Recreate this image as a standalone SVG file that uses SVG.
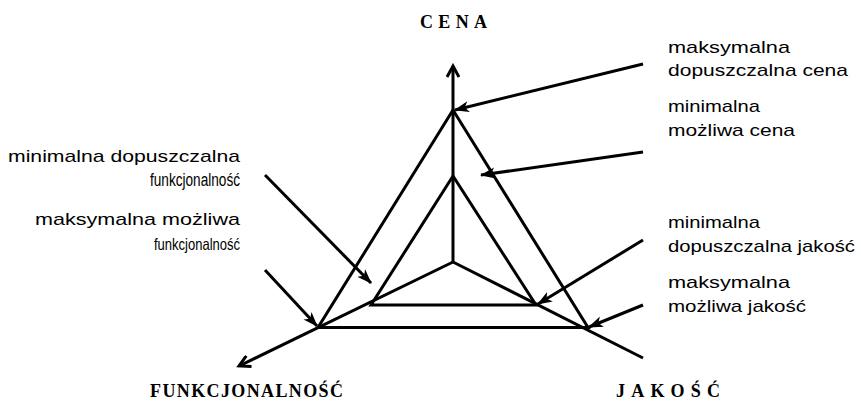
<svg xmlns="http://www.w3.org/2000/svg" width="861" height="403" viewBox="0 0 861 403">
<style>
.ln{fill:none;stroke:#000;stroke-width:3;stroke-linejoin:miter;stroke-linecap:butt}
.ptr{fill:none;stroke:#000;stroke-width:3;marker-end:url(#head)}
.ax{fill:none;stroke:#000;stroke-width:3}
.lbl{font-family:"Liberation Sans",Arial,sans-serif;font-size:17px;fill:#000}
.axl{font-family:"Liberation Serif","Times New Roman",serif;font-size:18px;font-weight:bold;fill:#000}
</style>
<defs>
<marker id="head" markerUnits="userSpaceOnUse" markerWidth="16" markerHeight="12" refX="14" refY="6" orient="auto">
<path d="M0,0.5 L15,6 L0,11.5 L4,6 z" fill="#000"/>
</marker>
<marker id="open" markerUnits="userSpaceOnUse" markerWidth="16" markerHeight="14" refX="13" refY="7" orient="auto">
<path d="M2,1 L13,7 L2,13" fill="none" stroke="#000" stroke-width="3"/>
</marker>
</defs>
<g id="axes">
<line class="ax" x1="453" y1="262" x2="453" y2="66" marker-end="url(#open)"/>
<line class="ax" x1="453" y1="262" x2="239" y2="366" marker-end="url(#open)"/>
<line class="ax" x1="453" y1="262" x2="643" y2="358"/>
</g>
<g id="outer-triangle">
<polygon class="ln" points="453,110 318,327.5 588,327.5"/>
</g>
<g id="inner-triangle">
<polygon class="ln" points="453,176 371,305 536,305"/>
</g>
<g id="connectors">
<line class="ptr" x1="643" y1="64" x2="455" y2="110"/>
<line class="ptr" x1="643" y1="152" x2="481" y2="175"/>
<line class="ptr" x1="643" y1="240" x2="538" y2="304"/>
<line class="ptr" x1="643" y1="305" x2="589" y2="327"/>
<line class="ptr" x1="265" y1="175" x2="371" y2="283"/>
<line class="ptr" x1="265" y1="270" x2="317" y2="326"/>
</g>
<g id="label-cena">
<text class="axl" x="420" y="28" textLength="67" lengthAdjust="spacing">CENA</text>
</g>
<g id="label-funkcjonalnosc">
<text class="axl" x="150" y="397" textLength="193" lengthAdjust="spacing">FUNKCJONALNOŚĆ</text>
</g>
<g id="label-jakosc">
<text class="axl" x="616" y="397" textLength="104" lengthAdjust="spacing">JAKOŚĆ</text>
</g>
<g id="note-max-cena">
<text class="lbl" x="668" y="53" textLength="122" lengthAdjust="spacingAndGlyphs">maksymalna</text>
<text class="lbl" x="668" y="76" textLength="180" lengthAdjust="spacingAndGlyphs">dopuszczalna cena</text>
</g>
<g id="note-min-cena">
<text class="lbl" x="668" y="112" textLength="92" lengthAdjust="spacingAndGlyphs">minimalna</text>
<text class="lbl" x="668" y="136" textLength="127" lengthAdjust="spacingAndGlyphs">możliwa cena</text>
</g>
<g id="note-min-jakosc">
<text class="lbl" x="668" y="228" textLength="92" lengthAdjust="spacingAndGlyphs">minimalna</text>
<text class="lbl" x="668" y="252" textLength="187" lengthAdjust="spacingAndGlyphs">dopuszczalna jakość</text>
</g>
<g id="note-max-jakosc">
<text class="lbl" x="668" y="288" textLength="122" lengthAdjust="spacingAndGlyphs">maksymalna</text>
<text class="lbl" x="668" y="312" textLength="138" lengthAdjust="spacingAndGlyphs">możliwa jakość</text>
</g>
<g id="note-min-funk">
<text class="lbl" x="8" y="162" textLength="232" lengthAdjust="spacingAndGlyphs">minimalna dopuszczalna</text>
<text class="lbl" x="150" y="186" textLength="90" lengthAdjust="spacingAndGlyphs" style="font-size:18px">funkcjonalność</text>
</g>
<g id="note-max-funk">
<text class="lbl" x="35" y="225" textLength="205" lengthAdjust="spacingAndGlyphs">maksymalna możliwa</text>
<text class="lbl" x="154" y="250" textLength="86" lengthAdjust="spacingAndGlyphs" style="font-size:16.5px">funkcjonalność</text>
</g>
</svg>
